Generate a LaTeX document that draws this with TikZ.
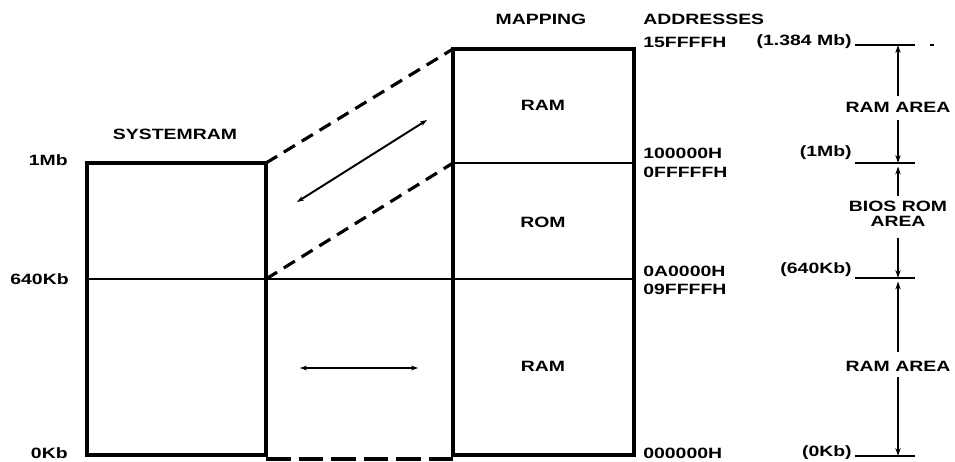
\documentclass[tikz,border=0pt]{standalone}
\usepackage{fontspec}
\newfontfamily\memfont{Liberation Sans}[FakeStretch=1.3]
\usetikzlibrary{arrows.meta}
\tikzset{
    boxline/.style={line width=2pt},
    divline/.style={line width=1.1pt},
    mapdash/.style={line width=1.8pt,dash pattern=on 7.4pt off 4.5pt},
    maparrow/.style={line width=1.1pt,{Stealth[length=4pt,width=2.8pt]}-{Stealth[length=4pt,width=2.8pt]}},
    dimarrow/.style={line width=1pt,-{Stealth[length=4.5pt,width=3pt]}},
    lbl/.style={font=\memfont\bfseries\fontsize{8.5}{8.6}\selectfont,inner sep=0pt,align=center}
}
\begin{document}
\begin{tikzpicture}[x=0.02cm,y=-0.02cm]
    \useasboundingbox (0,0) rectangle (955,462);
    % corners of the two blocks
    \coordinate (sysTL) at (87,163);
    \coordinate (sysTR) at (266,163);
    \coordinate (sysBR) at (266,455);
    \coordinate (sysMid) at (266,279);
    \coordinate (mapTL) at (453,49);
    \coordinate (mapTR) at (634,49);
    \coordinate (mapBL) at (453,455);
    \coordinate (mapMid) at (453,163);
    % system ram and mapping blocks
    \draw[boxline] (sysTL) rectangle (sysBR);
    \draw[boxline] (mapBL) rectangle (mapTR);
    \draw[divline] (87,279) -- (634,279);
    \draw[divline] (mapMid) -- (634,163);
    % dashed projection
    \draw[mapdash] (sysTR) -- (mapTL);
    \draw[mapdash] (sysMid) -- (mapMid);
    \draw[mapdash,dash pattern=on 14pt off 4.5pt] (266,459) -- (453,459);
    % mapping arrows
    \coordinate (diagA) at (297,202);
    \coordinate (diagB) at (427,120);
    \coordinate (horA) at (300,368);
    \coordinate (horB) at (418,368);
    \draw[maparrow] (diagA) -- (diagB);
    \draw[maparrow] (horA) -- (horB);
    % titles
    \node[lbl] (sysram) at (175,134) {SYSTEMRAM};
    \node[lbl] (mapping) at (541,19) {MAPPING};
    \node[lbl,anchor=west] (addresses) at (643,19) {ADDRESSES};
    \node[lbl] (ramhigh) at (543,105) {RAM};
    \node[lbl] (rom) at (543,222) {ROM};
    \node[lbl] (ramlow) at (543,366) {RAM};
    % sizes at the left
    \node[lbl,anchor=east] (mb1) at (68,160) {1Mb};
    \node[lbl,anchor=east] (kb640) at (69,279) {640Kb};
    \node[lbl,anchor=east] (kb0) at (68,453) {0Kb};
    % addresses
    \foreach \y/\t in {42/15FFFFH,153/100000H,172/0FFFFFH,271/0A0000H,289/09FFFFH,453/000000H}
        \node[lbl,anchor=west] (addr-\y) at (643,\y) {\t};
    % levels at the right
    \foreach \y/\ly/\t in {45/42/(1.384 Mb),163/153/(1Mb),278/270/(640Kb),456/453/(0Kb)} {
        \node[lbl,anchor=east] (size-\y) at (852,\ly) {\t};
        \draw[line width=1pt] (855,\y) coordinate (lvlL-\y) -- (915,\y) coordinate (lvlR-\y);
    }
    \draw[line width=1pt] (930,45) -- (934,45);
    % areas
    \node[lbl] (ramarea) at (898,107) {RAM AREA};
    \node[lbl] (biosarea) at (898,214) {BIOS ROM\\AREA};
    \node[lbl] (ramarea2) at (898,366) {RAM AREA};
    \draw[dimarrow] ([yshift=3pt]ramarea.north) -- (ramarea.north |- lvlR-45);
    \draw[dimarrow] ([yshift=-4pt]ramarea.south) -- (ramarea.south |- lvlR-163);
    \draw[dimarrow] ([yshift=3pt]biosarea.north) -- ([yshift=-2pt]biosarea.north |- lvlR-163);
    \draw[dimarrow] ([yshift=-6pt]biosarea.south) -- (biosarea.south |- lvlR-278);
    \draw[dimarrow] ([yshift=5pt]ramarea2.north) -- ([yshift=-2pt]ramarea2.north |- lvlR-278);
    \draw[dimarrow] ([yshift=-3pt]ramarea2.south) -- (ramarea2.south |- lvlR-456);
\end{tikzpicture}
\end{document}
